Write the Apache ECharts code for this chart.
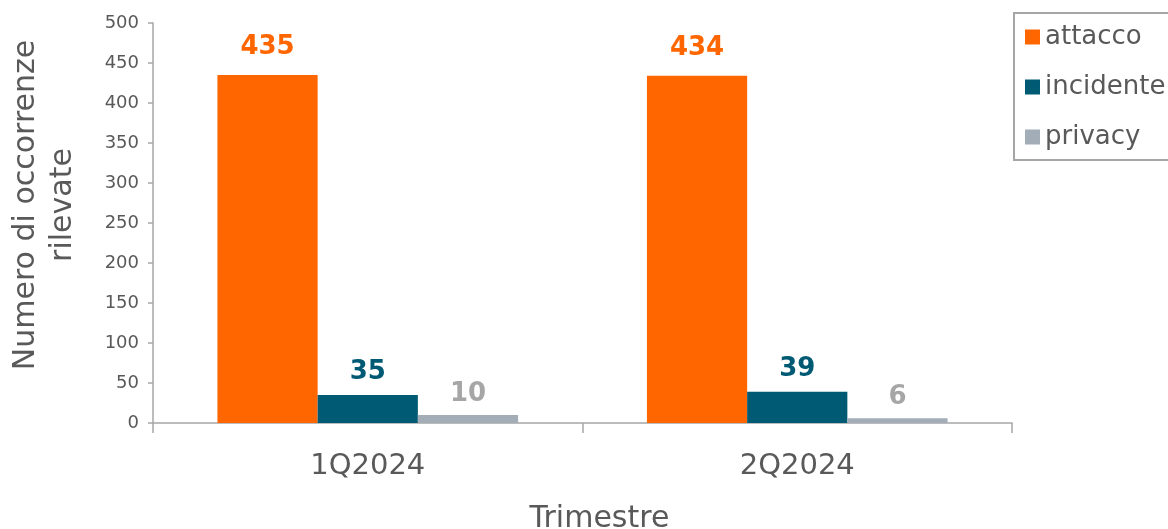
<!DOCTYPE html>
<html>
<head>
<meta charset="utf-8">
<script src="https://cdn.jsdelivr.net/npm/echarts@6/dist/echarts.min.js"></script>
<style>
  html, body { margin: 0; padding: 0; background: #fff; }
  #c1 { width: 1168px; height: 529px; }
</style>
</head>
<body>
<div id="c1"></div>
<script>
// dati del grafico
const categories = ["1Q2024", "2Q2024"];
const seriesNames = ["attacco", "incidente", "privacy"];
const attacco = [435, 434];
const incidente = [35, 39];
const privacy = [10, 6];
const yTicks = [0, 50, 100, 150, 200, 250, 300, 350, 400, 450, 500];

const barColors = ["#FF6600", "#005A73", "#A2ADB8"];
const labelColors = ["#FF6600", "#005A73", "#A6A6A6"];
const labelDistance = [15, 10, 8];
const values = [attacco, incidente, privacy];

let myChart = echarts.init(document.getElementById("c1"));
const FONT = "DejaVu Sans";

let option = {
  animation: false,
  textStyle: { fontFamily: FONT },
  grid: { left: 153, right: 156, top: 23, bottom: 106, outerBoundsMode: "none", containLabel: false },
  legend: {
    orient: "vertical",
    left: 1014,
    top: 13,
    data: seriesNames,
    icon: "rect",
    itemWidth: 15,
    itemHeight: 15,
    itemGap: 24,
    padding: [11, 40, 10, 11],
    borderColor: "#A6A6A6",
    borderWidth: 2,
    textStyle: { color: "#595959", fontSize: 26, fontFamily: FONT }
  },
  xAxis: {
    type: "category",
    data: categories,
    name: "Trimestre",
    nameLocation: "middle",
    nameGap: 81,
    nameTextStyle: { color: "#595959", fontSize: 30, fontFamily: FONT, padding: [0, 0, 0, 34] },
    axisLine: { lineStyle: { color: "#A6A6A6", width: 1.5 } },
    axisTick: { show: true, length: 10, lineStyle: { color: "#A6A6A6", width: 1.5 } },
    axisLabel: { color: "#595959", fontSize: 29, margin: 29, fontFamily: FONT }
  },
  yAxis: {
    type: "value",
    min: yTicks[0],
    max: yTicks[yTicks.length - 1],
    interval: yTicks[1] - yTicks[0],
    name: "Numero di occorrenze\nrilevate",
    nameLocation: "middle",
    nameGap: 71,
    nameTextStyle: { color: "#595959", fontSize: 30, lineHeight: 37, fontFamily: FONT, padding: [0, 0, 0, 36] },
    splitLine: { show: false },
    axisLine: { show: true, lineStyle: { color: "#A6A6A6", width: 1.5 } },
    axisTick: { show: true, length: 5, lineStyle: { color: "#A6A6A6", width: 1.5 } },
    axisLabel: { color: "#595959", fontSize: 18, margin: 14, fontFamily: FONT }
  },
  series: seriesNames.map((name, i) => ({
    name: name,
    type: "bar",
    data: values[i],
    barGap: "0%",
    barCategoryGap: "30%",
    itemStyle: { color: barColors[i] },
    label: {
      show: true,
      position: "top",
      distance: labelDistance[i],
      color: labelColors[i],
      fontSize: 26,
      fontWeight: "bold",
      fontFamily: FONT
    }
  }))
};
myChart.setOption(option);
</script>
</body>
</html>
